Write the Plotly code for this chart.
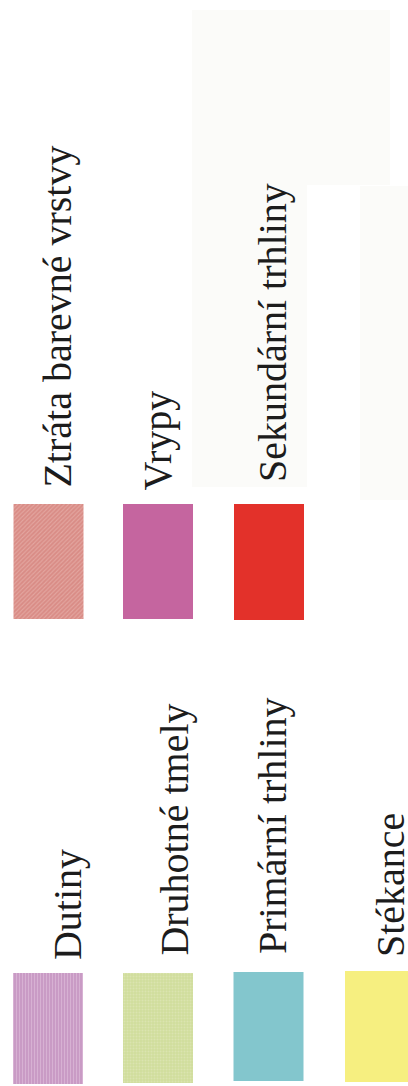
import plotly.graph_objects as go

# ---- data (legend entries) ----
categories = ["Ztráta barevné vrstvy", "Vrypy", "Sekundární trhliny",
              "Dutiny", "Druhotné tmely", "Primární trhliny", "Stékance"]
colors = ["#d98c86", "#c5659f", "#e3312a",
          "#c99bc5", "#d0dd9c", "#83c6cd", "#f6ef80"]
patterns = ["/", "", "", "|", ".", "", ""]
pattern_fg = ["#eec2bc", "", "", "#e6c8e2", "#e4ecc4", "", ""]

# ---- layout (pixel grid of the legend) ----
W, H = 408, 1086
sw_cx = [48.5, 158, 269, 48, 158, 268.5, 380]
sw_top = [504, 504, 504, 973, 973, 972, 971]
sw_h = [115, 115, 116, 111, 110, 109, 111]
sw_w = 70
txt_x = [56.6, 156.6, 272.6, 67.6, 173.6, 272.6, 390]
txt_y = [489, 492, 483, 961, 957, 955, 958]

fig = go.Figure()

# faint off-white background panels seen in the scan
for (x0, y0, x1, y1) in [(192, 10, 390, 185), (192, 185, 307, 487), (360, 186, 418, 500)]:
    fig.add_shape(type="rect", xref="x", yref="y", x0=x0, y0=y0, x1=x1, y1=y1,
                  line=dict(width=0), fillcolor="#fbfbf9", layer="below")

for i, name in enumerate(categories):
    pat = dict(shape=patterns[i], fgcolor=pattern_fg[i], size=3, solidity=0.35) if patterns[i] else dict(shape="")
    fig.add_trace(go.Bar(
        x=[sw_cx[i]], y=[sw_h[i]], base=[sw_top[i]], width=[sw_w],
        marker=dict(color=colors[i], line=dict(width=0), pattern=pat),
        name=name, showlegend=False, hoverinfo="name",
    ))
    fig.add_annotation(
        x=txt_x[i], y=txt_y[i], xref="x", yref="y",
        text=name, showarrow=False, textangle=-90,
        xanchor="center", yanchor="bottom", borderpad=0,
        font=dict(family="Liberation Serif", size=40, color="#1c1c1c"),
    )

fig.update_layout(
    width=W, height=H,
    margin=dict(l=0, r=0, t=0, b=0),
    paper_bgcolor="white", plot_bgcolor="white",
    barmode="overlay",
    xaxis=dict(range=[0, W], visible=False, fixedrange=True),
    yaxis=dict(range=[H, 0], visible=False, fixedrange=True),
)

fig.write_html(
    "out.html",
    config={"displayModeBar": False},
    post_script="document.body.style.margin='0';document.body.style.overflow='hidden';document.documentElement.style.overflow='hidden';",
)
